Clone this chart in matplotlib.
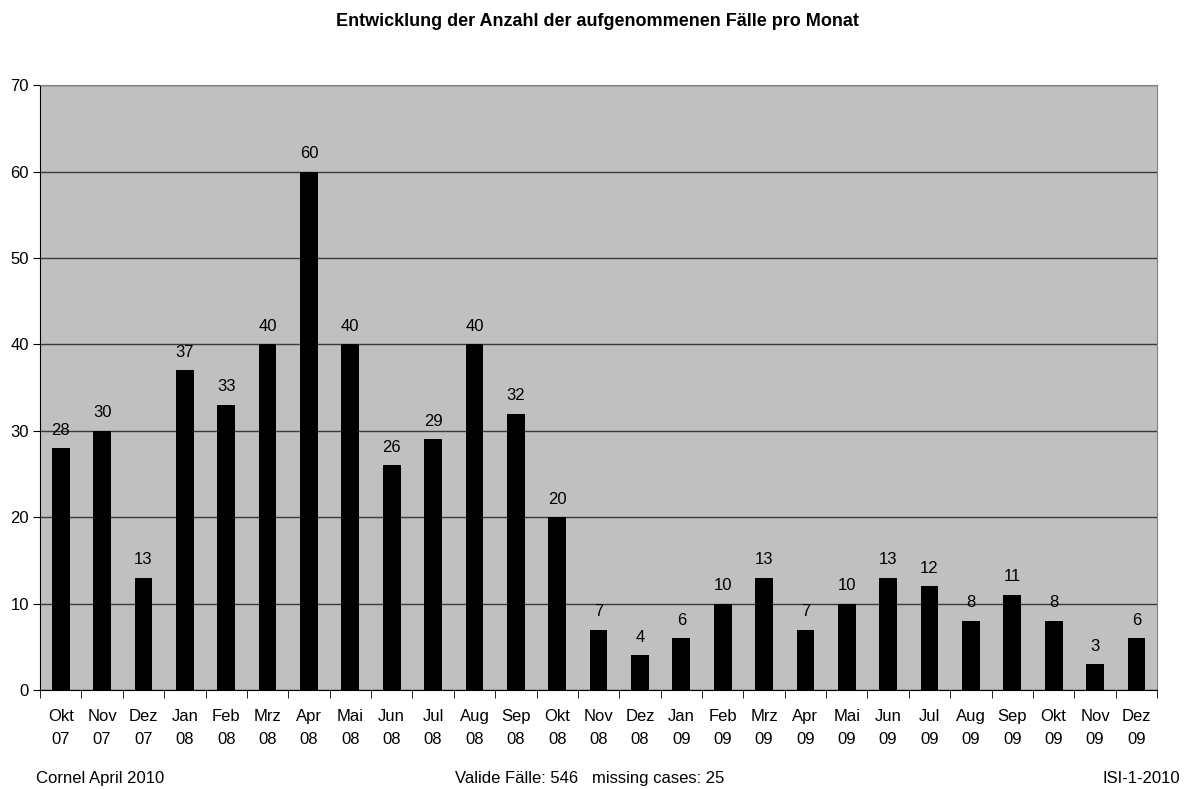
import matplotlib
matplotlib.use("Agg")
from matplotlib import pyplot as plt
import numpy as np

plt.rcParams['font.family'] = ['Liberation Sans', 'DejaVu Sans']

months = ["Okt\n07", "Nov\n07", "Dez\n07", "Jan\n08", "Feb\n08", "Mrz\n08", "Apr\n08",
          "Mai\n08", "Jun\n08", "Jul\n08", "Aug\n08", "Sep\n08", "Okt\n08", "Nov\n08",
          "Dez\n08", "Jan\n09", "Feb\n09", "Mrz\n09", "Apr\n09", "Mai\n09", "Jun\n09",
          "Jul\n09", "Aug\n09", "Sep\n09", "Okt\n09", "Nov\n09", "Dez\n09"]
cases = [28, 30, 13, 37, 33, 40, 60, 40, 26, 29, 40, 32, 20, 7, 4, 6, 10, 13, 7,
         10, 13, 12, 8, 11, 8, 3, 6]
yticks = [0, 10, 20, 30, 40, 50, 60, 70]

fig = plt.figure(figsize=(11.88, 7.89), dpi=100)
ax = fig.add_axes([0.0337, 0.1255, 0.9403, 0.7665])
ax.set_facecolor("#C0C0C0")

x = np.arange(len(cases))
ax.bar(x, cases, width=0.43, color="black", zorder=3)
for xi, v in zip(x, cases):
    ax.annotate(str(v), (xi, v), xytext=(0, 13), textcoords="offset points",
                ha="center", va="center", fontsize=12, zorder=4)

ax.set_xlim(-0.5, len(cases) - 0.5)
ax.set_ylim(0, 70)
ax.set_yticks(yticks)
ax.tick_params(axis="y", labelsize=12, length=5, direction="out", pad=3)
ax.yaxis.grid(True, color="#3a3a3a", linewidth=1.0, zorder=1)

# category labels centred, tick marks at category boundaries
ax.set_xticks(x)
ax.set_xticklabels(months, fontsize=12, linespacing=1.6)
ax.tick_params(axis="x", which="major", length=0, pad=14)
ax.set_xticks(np.arange(-0.5, len(cases)), minor=True)
ax.tick_params(axis="x", which="minor", length=6, direction="out")

for s in ["left", "bottom"]:
    ax.spines[s].set_color("black")
for s in ["top", "right"]:
    ax.spines[s].set_color("#808080")

fig.text(0.503, 0.973, "Entwicklung der Anzahl der aufgenommenen Fälle pro Monat",
         ha="center", va="center", fontsize=13, fontweight="bold")
fig.text(0.030, 0.0127, "Cornel April 2010", ha="left", va="center", fontsize=12)
fig.text(0.4966, 0.0127, "Valide Fälle: 546   missing cases: 25", ha="center", va="center", fontsize=12)
fig.text(0.9935, 0.0127, "ISI-1-2010", ha="right", va="center", fontsize=12)

fig.savefig("out.png", dpi=100)
